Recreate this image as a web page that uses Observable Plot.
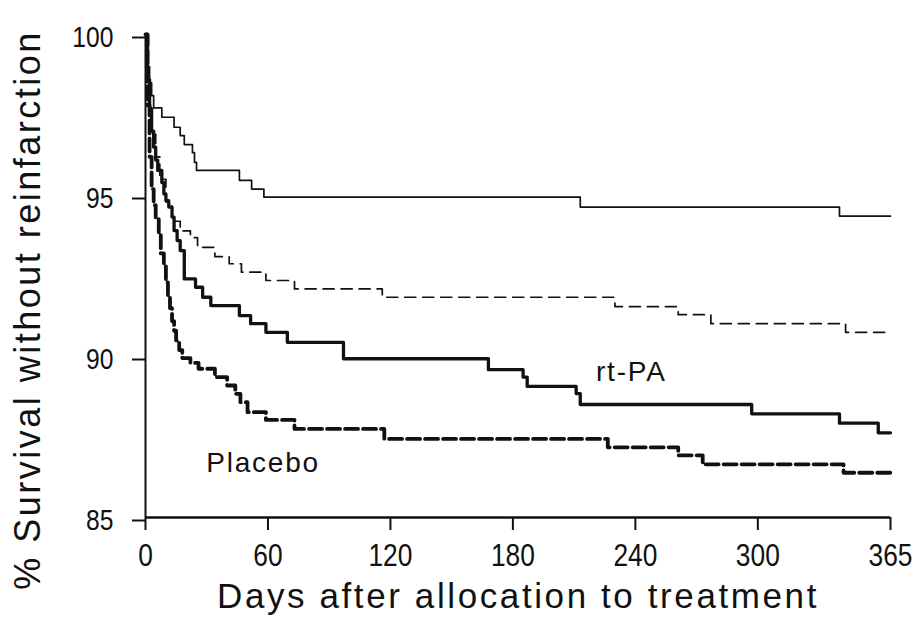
<!DOCTYPE html>
<html>
<head>
<meta charset="utf-8">
<script src="https://cdn.jsdelivr.net/npm/d3@7"></script>
<script src="https://cdn.jsdelivr.net/npm/@observablehq/plot@0.6"></script>
<style>
  html, body { margin: 0; padding: 0; background: #fff; }
  #chart svg { display: block; }
</style>
</head>
<body>
<div id="chart"></div>
<script>
// Kaplan–Meier style step curves, one year of follow-up.
// Thin lines: upper pair; thick lines: lower pair (labelled rt-PA / Placebo).

const xTicks = [0, 60, 120, 180, 240, 300, 365];
const yTicks = [85, 90, 95, 100];

// rt-PA, thin solid
const rtpaThinDay = [0, 1, 2, 3, 4, 8, 14, 17, 19, 23, 24, 25, 46, 52, 58, 213, 340, 365];
const rtpaThinPct = [100, 99.0, 98.5, 98.1, 97.72, 97.43, 97.12, 96.86, 96.58, 96.33, 96.03, 95.78, 95.47, 95.2, 94.95, 94.64, 94.36, 94.36];

// Placebo, thin dashed
const placeboThinDay = [0, 1, 2, 3, 5, 7, 10, 13, 17, 22, 25.5, 34, 41, 47, 59, 73, 116, 230, 261, 277, 343, 365];
const placeboThinPct = [100, 98.6, 97.6, 96.9, 96.2, 95.5, 94.8, 94.2, 93.9, 93.69, 93.39, 93.1, 92.88, 92.62, 92.36, 92.1, 91.84, 91.55, 91.3, 91.02, 90.75, 90.75];

// rt-PA, thick solid
const rtpaThickDay = [0, 1, 2, 3, 4, 5, 6, 8, 9, 10, 11.4, 13, 14, 15.5, 17, 19, 24.5, 28, 32, 46, 51.5, 59, 69.5, 97, 168, 185, 187, 211, 213, 297, 340, 359, 365];
const rtpaThickPct = [100, 98.6, 97.7, 97.0, 96.5, 96.1, 95.78, 95.4, 95.05, 94.84, 94.64, 94.33, 93.91, 93.6, 93.29, 92.41, 92.15, 91.84, 91.58, 91.27, 91.02, 90.75, 90.44, 89.93, 89.59, 89.36, 89.07, 88.85, 88.51, 88.22, 87.93, 87.63, 87.63];

// Placebo, thick dashed
const placeboThickDay = [0, 1, 2, 3, 4, 5, 6.5, 7.5, 9, 10, 11, 12, 13, 14, 15, 16.5, 18, 22, 26, 34, 40, 44, 46.5, 50, 59, 73, 117, 226.5, 261, 273, 342, 365];
const placeboThickPct = [100, 97.8, 96.2, 95.2, 94.7, 94.3, 93.8, 93.2, 92.8, 92.3, 91.9, 91.5, 91.1, 90.8, 90.5, 90.2, 89.95, 89.8, 89.62, 89.36, 89.1, 88.84, 88.58, 88.27, 88.03, 87.75, 87.44, 87.18, 86.93, 86.65, 86.39, 86.39];

// Curve labels
const curveLabels = [
  {text: "rt-PA", day: 238, pct: 89.25},
  {text: "Placebo", day: 57.6, pct: 86.40}
];

const yTitle = "% Survival without reinfarction";
const xTitle = "Days after allocation to treatment";

const toRows = (days, pcts) => days.map((d, i) => ({day: d, pct: pcts[i]}));

const black = "#111";

const chart = Plot.plot({
  width: 920,
  height: 626,
  marginLeft: 145,
  marginRight: 30,
  marginTop: 34,
  marginBottom: 109,
  style: {fontFamily: "'Liberation Sans', Arial, sans-serif", color: black, background: "#fff"},
  x: {domain: [0, 365], label: null},
  y: {domain: [85, 100], label: null},
  marks: [
    Plot.axisX({ticks: xTicks, tickSize: 13, tickPadding: 13, fontSize: 31, strokeWidth: 2, tickFormat: d => String(d), label: null}),
    Plot.axisY({ticks: yTicks, tickSize: 13, tickPadding: 19, fontSize: 29, strokeWidth: 2, dy: 3, tickFormat: d => String(d), label: null}),
    Plot.ruleX([0], {stroke: black, strokeWidth: 2}),
    Plot.ruleY([85], {stroke: black, strokeWidth: 2.5}),
    Plot.line(toRows(rtpaThinDay, rtpaThinPct), {x: "day", y: "pct", curve: "step-after", stroke: black, strokeWidth: 1.7}),
    Plot.line(toRows(placeboThinDay, placeboThinPct), {x: "day", y: "pct", curve: "step-after", stroke: black, strokeWidth: 1.7, strokeDasharray: "11,7"}),
    Plot.line(toRows(rtpaThickDay, rtpaThickPct), {x: "day", y: "pct", curve: "step-after", stroke: black, strokeWidth: 3.3}),
    Plot.line(toRows(placeboThickDay, placeboThickPct), {x: "day", y: "pct", curve: "step-after", stroke: black, strokeWidth: 3.8, strokeDasharray: "13,5"}),
    Plot.text(curveLabels, {x: "day", y: "pct", text: "text", fontSize: 28, lineAnchor: "bottom", textAnchor: "middle", fill: black}),
    Plot.text([yTitle], {frameAnchor: "left", text: d => d, rotate: -90, fontSize: 36, textAnchor: "middle", lineAnchor: "bottom", dx: -106, dy: 34, fill: black}),
    Plot.text([xTitle], {frameAnchor: "bottom", text: d => d, fontSize: 35, textAnchor: "middle", lineAnchor: "bottom", dy: 90, fill: black})
  ]
});

// Typographic finishing: narrow tick numerals, tracked titles and labels.
const tickStrings = new Set([...xTicks, ...yTicks].map(String));
const labelStrings = new Set(curveLabels.map(d => d.text));

function condense(el, k) {
  const x = +(el.getAttribute("x") || 0);
  const t = el.getAttribute("transform") || "";
  el.setAttribute("transform", `${t} translate(${x},0) scale(${k},1) translate(${-x},0)`);
}

d3.select(chart).selectAll("text").each(function () {
  const s = this.textContent;
  if (tickStrings.has(s)) condense(this, 0.85);
  else if (s === yTitle) this.style.letterSpacing = "2.5px";
  else if (s === xTitle) this.style.letterSpacing = "2.6px";
  else if (labelStrings.has(s)) this.style.letterSpacing = "1.8px";
});

document.getElementById("chart").appendChild(chart);
</script>
</body>
</html>
